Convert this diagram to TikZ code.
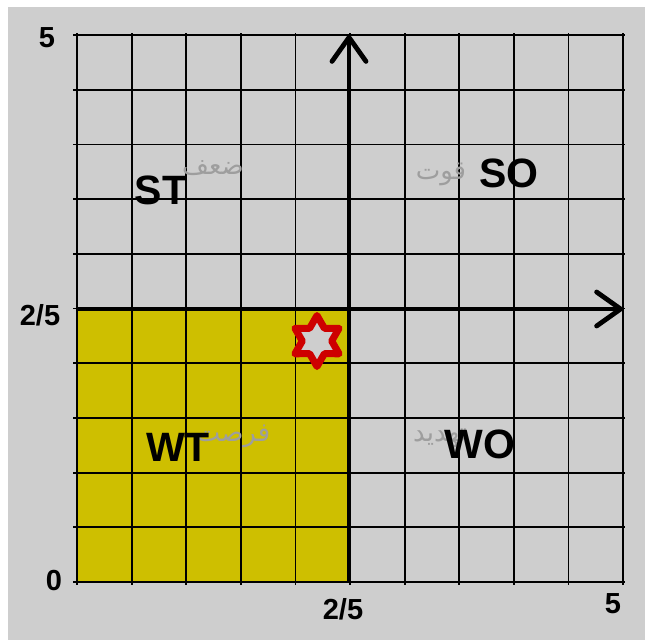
\documentclass[tikz,border=0pt]{standalone}
\usepackage{fontspec}
\setmainfont{Liberation Sans}
\newfontfamily\arabicfont[Script=Arabic]{DejaVu Sans}
\TeXXeTstate=1
\usetikzlibrary{arrows.meta}
\definecolor{bggray}{RGB}{206,206,206}
\definecolor{wtyellow}{RGB}{206,191,0}
\definecolor{argray}{RGB}{158,158,158}
\definecolor{starred}{RGB}{206,0,0}
\tikzset{
  gridline/.style={black, line width=1.8pt},
  axisline/.style={black, line width=4.8pt, -{Straight Barb[length=24pt,width=34pt,line width=4.8pt,round]}},
  quad/.style={font=\bfseries\fontsize{41}{41}\selectfont, text=black, inner sep=0pt},
  tick/.style={font=\bfseries\fontsize{29}{29}\selectfont, text=black, inner sep=0pt},
  ar/.style={font=\arabicfont\fontsize{26}{26}\selectfont, text=argray, inner sep=0pt},
  starline/.style={draw=starred, fill=bggray, line width=7pt, line join=round}
}
\begin{document}
\begin{tikzpicture}[x=1pt,y=-1pt]
\useasboundingbox (0,0) rectangle (645,640);
\fill[white] (0,0) rectangle (645,640);
\fill[bggray] (8,7) rectangle (645,640);
\fill[wtyellow] (77,309) rectangle (349,582);
\foreach \i in {0,...,10} {
  \draw[gridline] ({77+\i*54.6},33) -- ({77+\i*54.6},585);
  \draw[gridline] (73,{35+\i*54.7}) -- (625,{35+\i*54.7});
}
\coordinate (xo) at (77,309);
\coordinate (xe) at (623,309);
\coordinate (yo) at (349,582);
\coordinate (ye) at (349,35);
\draw[axisline] (xo) -- (xe);
\draw[axisline] (yo) -- (ye);
% arabic labels (drawn beneath)
\node[ar] (weak) at (213,168) {\beginR ضعف\endR};
\node[ar] (strong) at (441,174) {\beginR قوت\endR};
\node[ar] (opp) at (233,436) {\beginR فرصت\endR};
\node[ar] (threat) at (440,438) {\beginR تهدید\endR};
% quadrant labels
\node[quad] (st) at (161,190) {ST};
\node[quad] (so) at (509,173) {SO};
\node[quad] (wt) at (178,447) {WT};
\node[quad] (wo) at (480,444) {WO};
% axis values
\node[tick] (v5) at (47,38) {5};
\node[tick] (v25) at (40,315) {2/5};
\node[tick] (v0) at (54,581) {0};
\node[tick] (h25) at (343,609) {2/5};
\node[tick] (h5) at (613,604) {5};
% star
\begin{scope}[shift={(317,341)}]
\draw[starline] (90:25.5) -- (120:14.7) -- (150:25.5) -- (180:14.7) -- (210:25.5) -- (240:14.7) -- (270:25.5) -- (300:14.7) -- (330:25.5) -- (0:14.7) -- (30:25.5) -- (60:14.7) -- cycle;
\end{scope}
\end{tikzpicture}
\end{document}
